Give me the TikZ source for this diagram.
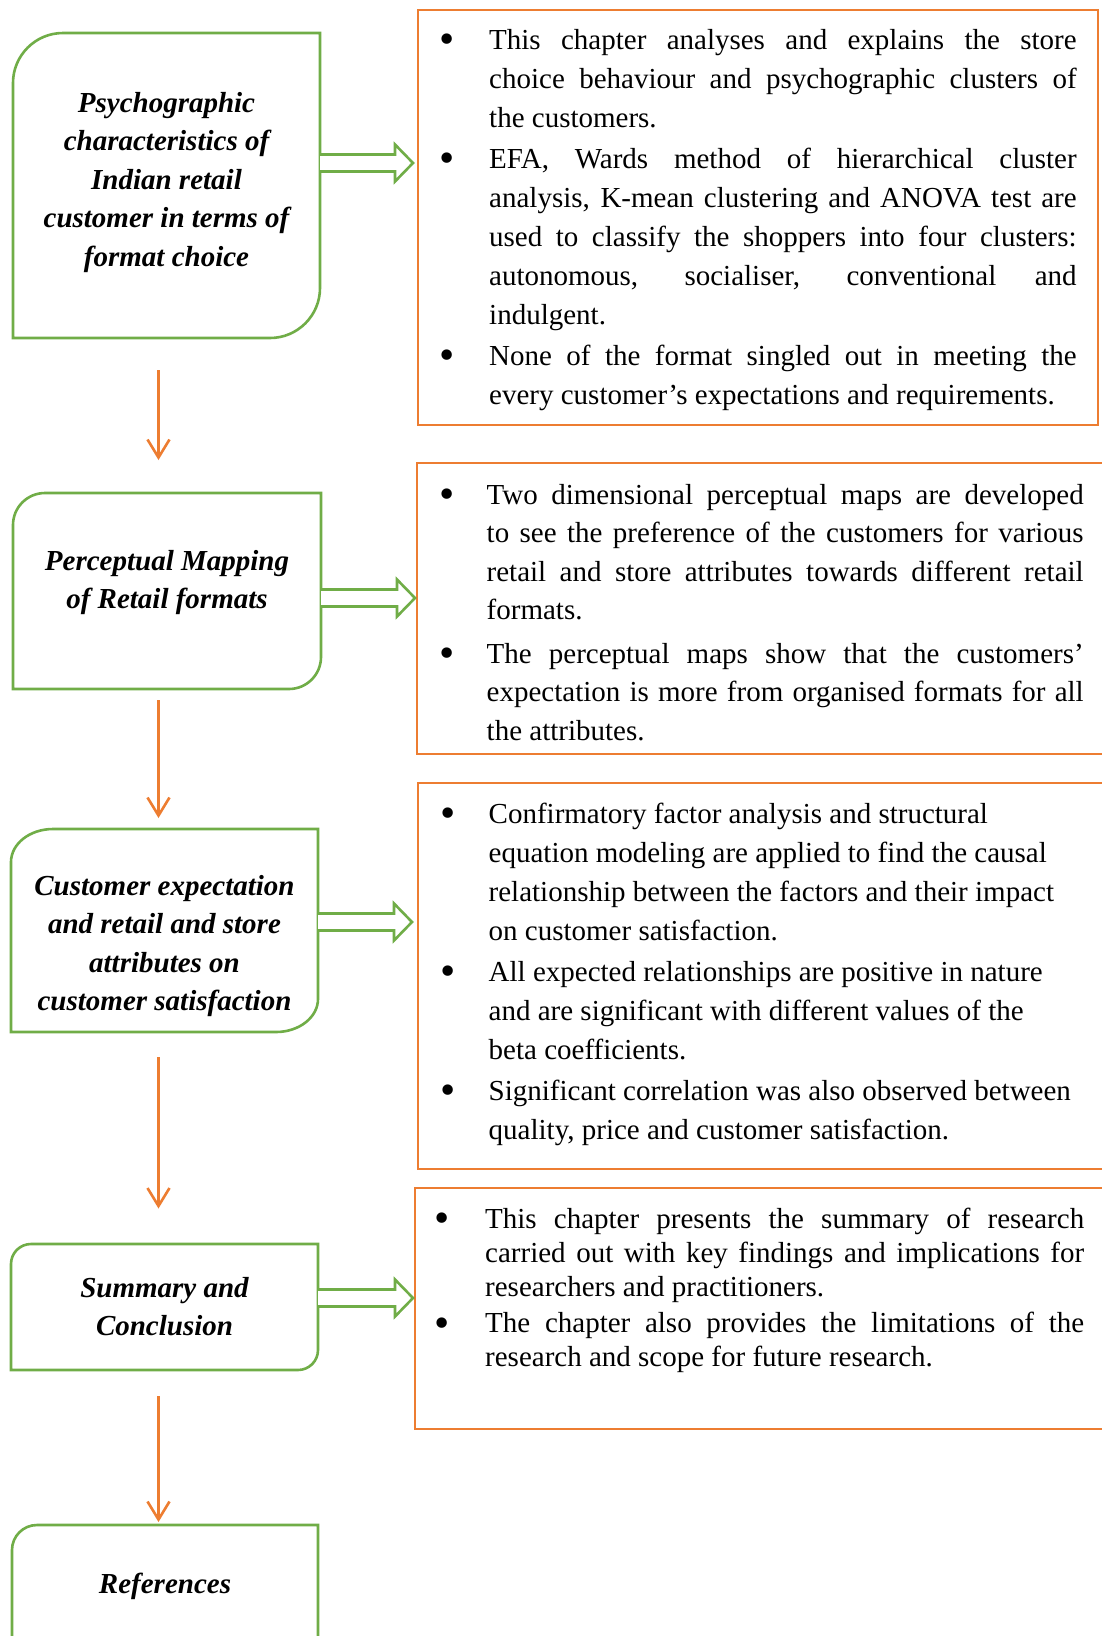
\documentclass[tikz,border=0pt]{standalone}
\usepackage{fontspec}
\setmainfont{Liberation Serif}
\usetikzlibrary{calc,arrows.meta}
\definecolor{boxgreen}{HTML}{70AD47}
\definecolor{boxorange}{HTML}{ED7D31}

% paragraph settings for the bullet texts
\newcommand\justsetup{\tolerance=10000 \hbadness=10000 \hyphenpenalty=10000 \exhyphenpenalty=10000 }
% bullet centred #1 to the left of the text start
\newcommand\bigbullet{\raisebox{-4.6pt}{\scalebox{1.5}{\textbullet}}}
\newcommand\bulitem[1][42pt]{\par\noindent\llap{\makebox[0pt][c]{\bigbullet}\hspace{#1}}}

% green frame: top-left and bottom-right corners rounded (#2 = x radius, #3 = y radius)
\newcommand\greenframe[3]{%
  \draw[gline] ($(#1.north west)+(#2,0)$) -- (#1.north east)
    -- ($(#1.south east)+(0,-#3)$)
    .. controls ($(#1.south east)+(0,-0.448*#3)$) and ($(#1.south east)+(-0.448*#2,0)$) .. ($(#1.south east)+(-#2,0)$)
    -- (#1.south west) -- ($(#1.north west)+(0,#3)$)
    .. controls ($(#1.north west)+(0,0.448*#3)$) and ($(#1.north west)+(0.448*#2,0)$) .. ($(#1.north west)+(#2,0)$)
    -- cycle;}

% hollow block arrow from #1 to the tip #2
\newcommand\blockarrow[2]{%
  \draw[gline, fill=white, line join=miter]
    ($(#1)+(0,-8.5)$) -- ($(#2)+(-18,-8.5)$) -- ($(#2)+(-18,-18.5)$) -- (#2)
    -- ($(#2)+(-18,18.5)$) -- ($(#2)+(-18,8.5)$) -- ($(#1)+(0,8.5)$);}

\begin{document}
\begin{tikzpicture}[x=1pt,y=-1pt,
  gline/.style={draw=boxgreen, line width=2.6pt},
  boxarea/.style={inner sep=0pt, outer sep=0pt, draw=none},
  obox/.style={boxarea, draw=boxorange, line width=2.6pt},
  flow/.style={draw=boxorange, line width=2.6pt, -{Straight Barb[length=18pt,width=22pt]}},
  lefttext/.style={anchor=base, inner sep=0pt, font=\fontsize{29pt}{38.5pt}\selectfont\bfseries\itshape},
  righttext/.style={anchor=base west, inner sep=0pt, font=\fontsize{29pt}{39pt}\selectfont},
]
\fill[white] (0,0) rectangle (1101,1636);
\useasboundingbox (0,0) rectangle (1101,1636);

% ---- left column: chapter boxes ----
\node[boxarea, minimum width=307pt, minimum height=305pt] (b1) at (166.5,185.5) {};
\node[boxarea, minimum width=308pt, minimum height=196pt] (b2) at (167,591) {};
\node[boxarea, minimum width=307pt, minimum height=203pt] (b3) at (164.5,930.5) {};
\node[boxarea, minimum width=307pt, minimum height=126pt] (b4) at (164.5,1307) {};
\node[boxarea, minimum width=306pt, minimum height=165pt] (b5) at (165,1607.5) {};
\greenframe{b1}{50}{50}
\greenframe{b2}{32}{32}
\greenframe{b3}{42}{33}
\greenframe{b4}{20}{20}
\greenframe{b5}{25}{25}

\node[lefttext] (t1) at (166.5,112) {\begin{tabular}[t]{@{}c@{}}Psychographic\\characteristics of\\Indian retail\\customer in terms of\\format choice\end{tabular}};
\node[lefttext] (t2) at (167,570) {\begin{tabular}[t]{@{}c@{}}Perceptual Mapping\\of Retail formats\end{tabular}};
\node[lefttext] (t3) at (164.5,895) {\begin{tabular}[t]{@{}c@{}}Customer expectation\\and retail and store\\attributes on\\customer satisfaction\end{tabular}};
\node[lefttext] (t4) at (164.5,1297) {\begin{tabular}[t]{@{}c@{}}Summary and\\Conclusion\end{tabular}};
\node[lefttext] (t5) at (165,1593) {References};

% ---- right column: summary boxes ----
\node[obox, minimum width=680pt, minimum height=415pt] (r1) at (758,217.5) {};
\node[obox, minimum width=691pt, minimum height=291pt] (r2) at (762.5,608.5) {};
\node[obox, minimum width=690pt, minimum height=386pt] (r3) at (763,976) {};
\node[obox, minimum width=693pt, minimum height=241pt] (r4) at (761.5,1308.5) {};

\node[righttext] (r1t) at (489,49) {\parbox[t]{587.5pt}{\justsetup\setlength{\parskip}{2pt}%
\bulitem This chapter analyses and explains the store\linebreak
choice behaviour and psychographic clusters of\linebreak
the customers.\par
\bulitem EFA, Wards method of hierarchical cluster\linebreak
analysis, K-mean clustering and ANOVA test are\linebreak
used to classify the shoppers into four clusters:\linebreak
autonomous, socialiser, conventional and\linebreak
indulgent.\par
\bulitem None of the format singled out in meeting the\linebreak
every customer’s expectations and requirements.\par}};

\node[righttext, font=\fontsize{29pt}{38.5pt}\selectfont] (r2t) at (486.5,504) {\parbox[t]{597pt}{\justsetup\setlength{\parskip}{5pt}%
\bulitem[40pt]Two dimensional perceptual maps are developed\linebreak
to see the preference of the customers for various\linebreak
retail and store attributes towards different retail\linebreak
formats.\par
\bulitem[40pt]The perceptual maps show that the customers’\linebreak
expectation is more from organised formats for all\linebreak
the attributes.\par}};

\node[righttext] (r3t) at (488.5,823) {\parbox[t]{610pt}{\raggedright\justsetup\setlength{\parskip}{2pt}%
\bulitem[41pt]Confirmatory factor analysis and structural\\
equation modeling are applied to find the causal\\
relationship between the factors and their impact\\
on customer satisfaction.\par
\bulitem[41pt]All expected relationships are positive in nature\\
and are significant with different values of the\\
beta coefficients.\par
\bulitem[41pt]Significant correlation was also observed between\\
quality, price and customer satisfaction.\par}};

\node[righttext, font=\fontsize{29pt}{34.2pt}\selectfont] (r4t) at (485,1228) {\parbox[t]{599pt}{\justsetup\setlength{\parskip}{2pt}%
\bulitem[43pt]This chapter presents the summary of research\linebreak
carried out with key findings and implications for\linebreak
researchers and practitioners.\par
\bulitem[43pt]The chapter also provides the limitations of the\linebreak
research and scope for future research.\par}};

% ---- hollow arrows from each chapter box to its summary ----
\coordinate (y1) at (0,163);
\coordinate (y2) at (0,598);
\coordinate (y3) at (0,922);
\coordinate (y4) at (0,1298);
\coordinate (a1s) at (b1.east |- y1);
\coordinate (a2s) at (b2.east |- y2);
\coordinate (a3s) at (b3.east |- y3);
\coordinate (a4s) at (b4.east |- y4);
\coordinate (a1t) at ($(r1.west |- y1)+(-5,0)$);
\coordinate (a2t) at ($(r2.west |- y2)+(-2,0)$);
\coordinate (a3t) at ($(r3.west |- y3)+(-6,0)$);
\coordinate (a4t) at ($(r4.west |- y4)+(-2,0)$);
\blockarrow{a1s}{a1t}
\blockarrow{a2s}{a2t}
\blockarrow{a3s}{a3t}
\blockarrow{a4s}{a4t}

% ---- orange flow arrows down the left column ----
\coordinate (axis) at (158.5,0);
\draw[flow, shorten <=32pt, shorten >=33pt] (b1.south -| axis) -- (b2.north -| axis);
\draw[flow, shorten <=11pt, shorten >=11pt] (b2.south -| axis) -- (b3.north -| axis);
\draw[flow, shorten <=25pt, shorten >=35.5pt] (b3.south -| axis) -- (b4.north -| axis);
\draw[flow, shorten <=26pt, shorten >=3pt] (b4.south -| axis) -- (b5.north -| axis);
\end{tikzpicture}
\end{document}
